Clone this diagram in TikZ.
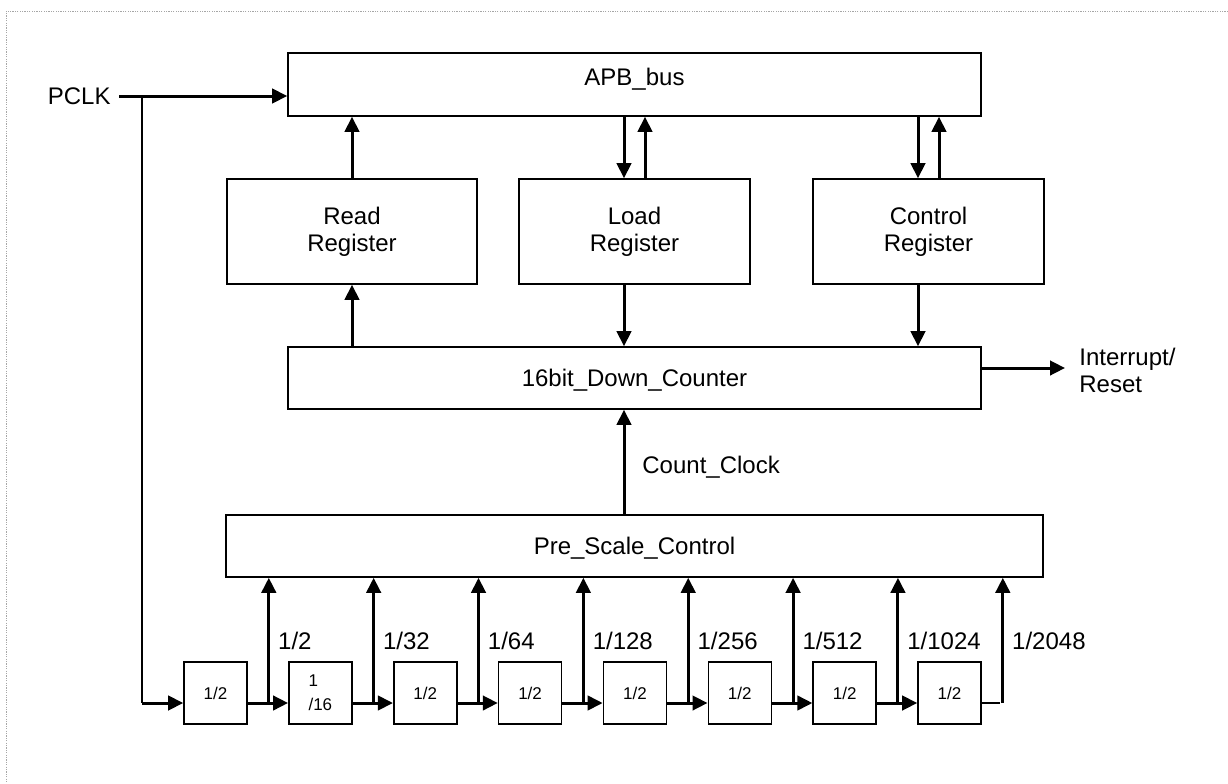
\documentclass[tikz,border=0pt]{standalone}
\usepackage{fontspec}
\setmainfont{Liberation Sans}
\usetikzlibrary{arrows.meta,calc}
\begin{document}
\begin{tikzpicture}[x=0.5pt,y=-0.5pt,
  box/.style={draw,line width=0.8pt,inner sep=0pt,align=center,font=\fontsize{12}{13.5}\selectfont},
  divbox/.style={draw,line width=0.8pt,inner sep=0pt,minimum width=31.5pt,minimum height=31pt,font=\fontsize{8.5}{12}\selectfont,align=left},
  arr/.style={line width=1.5pt,-{Triangle[length=7.5pt,width=7.2pt]}},
  wire/.style={line width=0.9pt},
  thinwire/.style={line width=0.75pt},
  lbl/.style={inner sep=0pt,font=\fontsize{12}{13.5}\selectfont}]
\useasboundingbox (0,0) rectangle (1228,783);
\draw[gray!70,line width=0.5pt,dash pattern=on 0.6pt off 0.6pt] (1228,11) -- (6,11) -- (6,783);

% main blocks
\node[box,minimum width=346.5pt,minimum height=31.5pt,text height=8.6pt,text depth=7.5pt] (apb) at (634.5,84.5) {APB\_bus};
\node[box,minimum width=125pt,minimum height=52.5pt] (read) at (352,231.5) {Read\\Register};
\node[box,minimum width=115.5pt,minimum height=52.5pt] (load) at (634.5,231.5) {Load\\Register};
\node[box,minimum width=115.5pt,minimum height=52.5pt] (ctrl) at (928.5,231.5) {Control\\Register};
\node[box,minimum width=346.5pt,minimum height=31pt,text height=8.6pt,text depth=0pt] (cnt) at (634.5,378) {16bit\_Down\_Counter};
\node[box,minimum width=408.5pt,minimum height=31pt,text height=8.6pt,text depth=0pt] (pre) at (634.5,546) {Pre\_Scale\_Control};

% dividers
\node[divbox] (d1) at (215.5,693) {1/2};
\node[divbox] (d2) at (320.36,693) {1\\/16};
\node[divbox] (d3) at (425.22,693) {1/2};
\node[divbox] (d4) at (530.08,693) {1/2};
\node[divbox] (d5) at (634.94,693) {1/2};
\node[divbox] (d6) at (739.8,693) {1/2};
\node[divbox] (d7) at (844.66,693) {1/2};
\node[divbox] (d8) at (949.52,693) {1/2};

% PCLK
\node[lbl,anchor=east,inner xsep=4pt] (pclk) at (119,96) {PCLK};
\draw[arr] (pclk.east) -- (pclk.east -| apb.west);
\coordinate (br) at (142,96);
\coordinate (in1) at ($(d1.west)+(0,10)$);
\draw[wire] (br) -- (br |- in1);
\draw[arr] (br |- in1) -- (in1);

% register <-> bus
\draw[arr] (read.north) -- (read.north |- apb.south);
\draw[arr] ($(apb.south -| load.north)+(-10.5,0)$) -- ($(load.north)+(-10.5,0)$);
\draw[arr] ($(load.north)+(10.5,0)$) -- ($(apb.south -| load.north)+(10.5,0)$);
\draw[arr] ($(apb.south -| ctrl.north)+(-10.5,0)$) -- ($(ctrl.north)+(-10.5,0)$);
\draw[arr] ($(ctrl.north)+(10.5,0)$) -- ($(apb.south -| ctrl.north)+(10.5,0)$);

% register <-> counter
\draw[arr] (cnt.north -| read.south) -- (read.south);
\draw[arr] ($(load.south)+(-10.5,0)$) -- ($(cnt.north -| load.south)+(-10.5,0)$);
\draw[arr] ($(ctrl.south)+(-10.5,0)$) -- ($(cnt.north -| ctrl.south)+(-10.5,0)$);

% count clock
\draw[arr] ($(pre.north)+(-10.5,0)$) -- ($(cnt.south)+(-10.5,0)$);
\node[lbl,anchor=base west] (cc) at (642,473) {Count\_Clock};

% interrupt
\node[lbl,anchor=west,align=left,inner xsep=7pt] (intr) at (1065,370) {Interrupt/\\Reset};
\coordinate (io) at ($(cnt.east)+(0,-10)$);
\draw[arr] (io) -- (io -| intr.west);

% divider chain
\foreach \i [evaluate=\i as \n using int(\i+1)] in {1,...,7} {
  \coordinate (j\i) at ($(d\i.east)+(21,10)$);
  \draw[arr] ($(d\i.east)+(0,10)$) -- ($(d\n.west)+(0,10)$);
  \draw[arr] (j\i) -- (j\i |- pre.south);
}
\coordinate (j8) at ($(d8.east)+(21,10)$);
\draw[thinwire] ($(d8.east)+(0,10)$) -- ($(j8)+(-3,0)$);
\draw[arr] (j8) -- (j8 |- pre.south);

% tap labels
\foreach \i/\t in {1/{1/2},2/{1/32},3/{1/64},4/{1/128},5/{1/256},6/{1/512},7/{1/1024},8/{1/2048}} {
  \node[lbl,anchor=base west] (l\i) at ($(j\i)+(9,-54)$) {\t};
}
\end{tikzpicture}
\end{document}
